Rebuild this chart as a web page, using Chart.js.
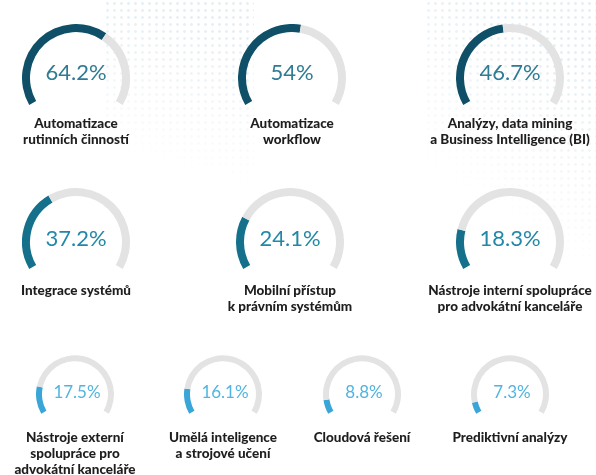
<!DOCTYPE html>
<html lang="cs">
<head>
<meta charset="utf-8">
<script src="https://cdn.jsdelivr.net/npm/chart.js@4.4.1/dist/chart.umd.min.js"></script>
<style>
  html, body { margin: 0; padding: 0; background: #fff; }
  #wrap { position: relative; width: 596px; height: 475px; overflow: hidden; font-family: Lato, "Noto Sans", sans-serif; }
  .g { position: absolute; }
  .g canvas { display: block; }
  .pct { position: absolute; text-align: center; font-weight: 400; white-space: nowrap; transform: translate(-50%, -50%); }
  .lbl { position: absolute; text-align: center; font-weight: 900; color: #1e1e1e; font-size: 13.5px; line-height: 16px; white-space: nowrap; transform: translateX(-50%); }
  .dots { position: absolute; background-image: radial-gradient(circle, #d8e9f1 1.1px, transparent 1.6px); background-size: 7px 7px; }
</style>
</head>
<body>
<div id="wrap">
  <div class="dots" style="left:104px; top:0; width:150px; height:200px; -webkit-mask-image: linear-gradient(195deg, rgba(0,0,0,0.7) 15%, transparent 80%); mask-image: linear-gradient(195deg, rgba(0,0,0,0.7) 15%, transparent 80%);"></div>
  <div class="dots" style="left:425px; top:0; width:171px; height:260px; -webkit-mask-image: linear-gradient(215deg, rgba(0,0,0,0.7) 20%, transparent 75%); mask-image: linear-gradient(215deg, rgba(0,0,0,0.7) 20%, transparent 75%);"></div>
</div>
<script>
// data
const kategorie = [
  ["Automatizace", "rutinních činností"],
  ["Automatizace", "workflow"],
  ["Analýzy, data mining", "a Business Intelligence (BI)"],
  ["Integrace systémů"],
  ["Mobilní přístup", "k právním systémům"],
  ["Nástroje interní spolupráce", "pro advokátní kanceláře"],
  ["Nástroje externí", "spolupráce pro", "advokátní kanceláře"],
  ["Umělá inteligence", "a strojové učení"],
  ["Cloudová řešení"],
  ["Prediktivní analýzy"]
];
const hodnoty = [64.2, 54, 46.7, 37.2, 24.1, 18.3, 17.5, 16.1, 8.8, 7.3];

// rozložení
const stredX = [76, 292, 510, 76, 290, 510, 75, 223, 362, 510];
const radek = [0, 0, 0, 1, 1, 1, 2, 2, 2, 2];
const radekY = [78, 242, 394];
const polomer = [54, 54, 39];
const tloustka = [8, 8, 6];
const barvaOblouku = ["#0f5068", "#15718b", "#3aa6d8"];
const barvaTextu = ["#2f7b93", "#2288a8", "#52b4e0"];
const velikostTextu = [22, 22, 17];
const posunTextu = [-7, -5, -3];
const posunTextuX = [0, 0, 2];
const popisekY = [115, 282, 429];
const seda = "#e3e3e3";

const wrap = document.getElementById("wrap");

hodnoty.forEach((v, i) => {
  const r = radek[i];
  const R = polomer[r];
  const cx = stredX[i];
  const cy = radekY[r];

  const box = document.createElement("div");
  box.className = "g";
  box.style.left = (cx - R) + "px";
  box.style.top = (cy - R) + "px";
  const canvas = document.createElement("canvas");
  canvas.width = 2 * R;
  canvas.height = Math.ceil(1.5 * R);
  box.appendChild(canvas);
  wrap.appendChild(box);

  new Chart(canvas, {
    type: "doughnut",
    data: {
      labels: [kategorie[i].join(" "), ""],
      datasets: [{
        data: [v, 100 - v],
        backgroundColor: [barvaOblouku[r], seda],
        borderWidth: 0,
        hoverOffset: 0
      }]
    },
    options: {
      responsive: false,
      animation: false,
      events: [],
      rotation: -120,
      circumference: 240,
      cutout: ((R - tloustka[r]) / R * 100) + "%",
      plugins: { legend: { display: false }, tooltip: { enabled: false } }
    }
  });

  const pct = document.createElement("div");
  pct.className = "pct";
  pct.textContent = v + "%";
  pct.style.left = (cx + posunTextuX[r]) + "px";
  pct.style.top = (cy + posunTextu[r]) + "px";
  pct.style.fontSize = velikostTextu[r] + "px";
  pct.style.color = barvaTextu[r];
  wrap.appendChild(pct);

  const lbl = document.createElement("div");
  lbl.className = "lbl";
  lbl.innerHTML = kategorie[i].join("<br>");
  lbl.style.left = cx + "px";
  lbl.style.top = popisekY[r] + "px";
  wrap.appendChild(lbl);
});
</script>
</body>
</html>
